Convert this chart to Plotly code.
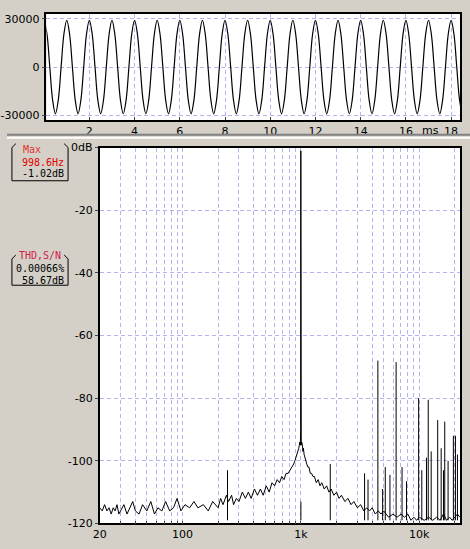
import plotly.graph_objects as go

# ---- waveform (top panel), one cycle of the 1 kHz tone sampled every 1/8 ms
wave_cycle = [29000, 20500, 0, -20500, -29000, -20500, 0, 20500]
wave_start_ms = 0.0
wave_step_ms = 0.125
wave_cycles = 19

# ---- spectrum noise floor (Hz, dB)
floor_freq = [20, 21, 22, 23, 24, 25, 26, 27, 28, 29, 30, 32, 34, 36, 38, 40, 43, 46, 50, 54,
              58, 62, 67, 72, 78, 84, 90, 97, 105, 115, 125, 135, 150, 165, 180, 200, 210,
              220, 235, 245, 260, 270, 285, 300, 320, 340, 360, 380, 405, 430, 455, 480,
              510, 540, 570, 600, 630, 660, 690, 720, 750, 780, 810, 840, 870, 890, 910,
              930, 945, 960, 970, 980, 990, 995, 998.6, 1002, 1007, 1015, 1030, 1040,
              1050, 1065, 1080, 1100, 1120, 1145, 1170, 1200, 1230, 1265, 1300, 1350,
              1400, 1450, 1500, 1575, 1650, 1725, 1800, 1900, 2000, 2100, 2200, 2350,
              2500, 2650, 2800, 3000, 3200, 3400, 3600, 3800, 4000, 4250, 4500, 4750,
              5000, 5500, 6000, 6500, 7000, 7500, 8000, 8500, 9000, 9500, 10000, 11000,
              12000, 13000, 14000, 15000, 16000, 17000, 18000, 19000, 20000, 21000, 22000]
floor_db = [-115, -116, -114, -116, -115, -117, -115, -116, -114, -117, -116, -114, -117,
            -115, -113, -116, -117, -114, -116, -113, -117, -115, -116, -113, -116, -115,
            -112, -116, -114, -115, -113, -115, -114, -116, -113, -115, -112, -114, -111,
            -113, -111, -114, -112, -113, -110, -112, -110, -112, -109, -111, -109, -111,
            -108, -110, -107, -108, -106, -107, -105, -106, -104, -104, -103, -102, -101,
            -100, -99, -98, -97, -96, -95, -94, -95, -90, -1.02, -88, -95, -94, -95,
            -97, -96, -98, -99, -100, -101, -102, -102, -104, -104, -105, -105, -107,
            -106, -108, -107, -109, -108, -110, -109, -111, -110, -112, -111, -113,
            -112, -114, -113, -115, -114, -116, -115, -116, -115, -117, -116, -117,
            -116, -118, -117, -118, -117, -118, -117, -119, -118, -119, -118, -119,
            -118, -119, -118, -119, -117, -119, -118, -119, -118, -117, -118]

# ---- spurious spikes (Hz, top dB)
spike_freq = [240, 1000, 1770, 3450, 3690, 4470, 4900, 5160, 5650, 6370, 7150, 7800,
              9870, 10500, 11500, 11900, 12600, 14300, 15300, 16000, 16400, 17500,
              19400, 20200, 21000]
spike_db = [-103, -113, -101, -104, -106, -68, -109, -102, -104.5, -68.5, -102, -106.5,
            -80, -103, -99, -80.5, -97, -87, -96, -103, -87.5, -100, -92, -92, -98]
spike_base = -119

W, H = 470, 549

wave_t, wave_v = [], []
for c in range(wave_cycles):
    for i, v in enumerate(wave_cycle):
        wave_t.append(wave_start_ms + (c * len(wave_cycle) + i) * wave_step_ms)
        wave_v.append(v)

sx, sy = [], []
for f, d in zip(spike_freq, spike_db):
    sx += [f, f, None]
    sy += [spike_base, d, None]

grid = "#b4b4f0"
fnt = dict(family="DejaVu Sans", size=11, color="black")
ax = dict(showgrid=True, gridcolor=grid, griddash="4px,3px", zeroline=False,
          showline=True, linecolor="black", mirror=True, linewidth=1.5)

fig = go.Figure()
fig.add_trace(go.Scatter(x=wave_t, y=wave_v, mode="lines", line=dict(color="black", width=1.2, shape="spline"),
                         xaxis="x", yaxis="y", showlegend=False, hoverinfo="skip"))
fig.add_trace(go.Scatter(x=floor_freq, y=floor_db, mode="lines", line=dict(color="black", width=1),
                         xaxis="x2", yaxis="y2", showlegend=False))
fig.add_trace(go.Scatter(x=sx, y=sy, mode="lines", line=dict(color="black", width=1),
                         xaxis="x2", yaxis="y2", showlegend=False))

log_ticks = [20, 30, 40, 50, 60, 70, 80, 90, 100, 200, 300, 400, 500, 600, 700, 800, 900,
             1000, 2000, 3000, 4000, 5000, 6000, 7000, 8000, 9000, 10000, 20000]
log_text = ["20"] + [""] * 7 + ["100"] + [""] * 8 + ["1k"] + [""] * 8 + ["10k", ""]

fig.update_layout(
    width=W, height=H, margin=dict(l=0, r=0, t=0, b=0),
    paper_bgcolor="#d4d0c8", plot_bgcolor="white", font=fnt,
    xaxis=dict(domain=[40 / W, 460 / W], anchor="y", range=[0.1, 18.4],
               tickvals=[2, 4, 6, 8, 10, 12, 14, 16, 18], ticks="inside", ticklen=3, **ax),
    yaxis=dict(domain=[1 - 117 / H, 1 - 8 / H], anchor="x", range=[-33000, 33000],
               tickvals=[-30000, 0, 30000], ticktext=["-30000", "0", "30000"],
               ticks="outside", ticklen=3, **ax),
    xaxis2=dict(domain=[94 / W, 460 / W], anchor="y2", type="log", range=[1.30, 4.345],
                tickvals=log_ticks, ticktext=log_text, ticks="inside", ticklen=3, **ax),
    yaxis2=dict(domain=[1 - 530 / H, 1 - 145 / H], anchor="x2", range=[-120, 0],
                tickvals=[0, -20, -40, -60, -80, -100, -120],
                ticktext=["0dB", "-20", "-40", "-60", "-80", "-100", "-120"],
                ticks="outside", ticklen=3, **ax),
)

# panel separator
fig.add_shape(type="line", xref="paper", yref="paper", x0=0, x1=1, y0=1 - 132 / H, y1=1 - 132 / H,
              line=dict(color="#808080", width=2))
fig.add_shape(type="line", xref="paper", yref="paper", x0=0, x1=1, y0=1 - 135 / H, y1=1 - 135 / H,
              line=dict(color="white", width=2))
fig.add_annotation(x=17.1, y=-33000, xref="x", yref="y", text="ms", showarrow=False,
                   yanchor="top", yshift=-2, font=fnt)

# readout boxes on the left
mono = dict(family="DejaVu Sans Mono", size=10)
readouts = [(25, 147, "center", "Max", "#e03030"), (60, 160, "right", "998.6Hz", "#e00000"),
            (60, 172, "right", "-1.02dB", "black"),
            (33, 256, "center", "THD,S/N", "#d0204a"), (60, 269, "right", "0.00066%", "black"),
            (60, 281, "right", "58.67dB", "black")]
for px, py, anc, txt, col in readouts:
    fig.add_annotation(x=px / W, y=1 - py / H, xref="paper", yref="paper", text=txt, showarrow=False,
                       xanchor=anc, yanchor="middle", font=dict(color=col, **mono))
for top, bot in [(141, 179), (255, 286)]:
    y0, y1 = 1 - bot / H, 1 - top / H
    fig.add_shape(type="path", xref="paper", yref="paper",
                  path=f"M {9/W} {y1} L {5/W} {1-(top+4)/H} L {5/W} {y0} L {62/W} {y0} "
                       f"L {62/W} {1-(top+4)/H} L {58/W} {y1}",
                  line=dict(color="black", width=1))

fig.write_html("out.html", config={"displayModeBar": False},
               post_script="document.body.style.margin='0';document.body.style.overflow='hidden';")
